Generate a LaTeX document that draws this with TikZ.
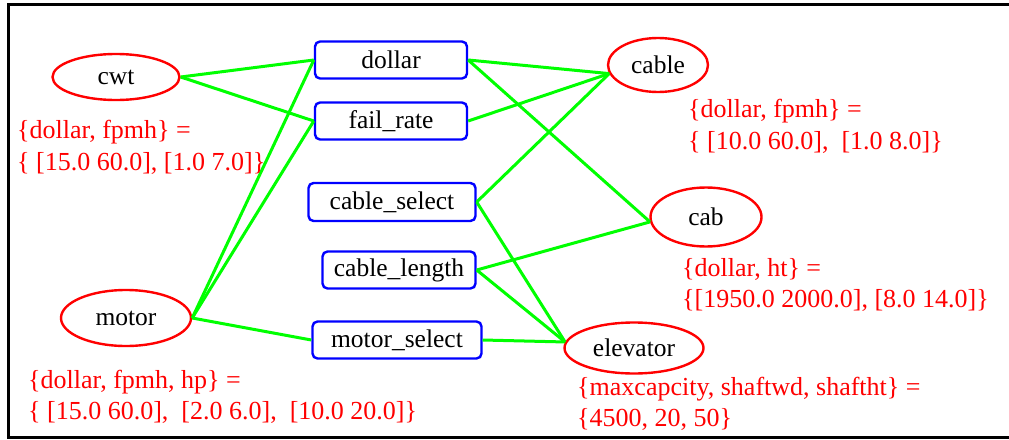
\documentclass[tikz,border=0pt]{standalone}
\usepackage{fontspec}
\setmainfont{Liberation Serif}
\newfontfamily\diagfont{Liberation Serif}
\usetikzlibrary{shapes.geometric}
\definecolor{lgreen}{RGB}{0,255,0}
\definecolor{lred}{RGB}{255,0,0}
\definecolor{lblue}{RGB}{0,0,255}
\begin{document}
\begin{tikzpicture}[x=1pt,y=-1pt,
  ent/.style={ellipse, draw=lred, line width=2.4pt, inner sep=0pt, font=\diagfont\fontsize{25.5}{28}\selectfont},
  var/.style={rectangle, rounded corners=5pt, draw=lblue, line width=2.4pt, inner sep=0pt, font=\diagfont\fontsize{25.5}{28}\selectfont},
  ann/.style={text=lred, anchor=base west, inner sep=0pt, font=\diagfont\fontsize{26}{30}\selectfont},
  link/.style={draw=lgreen, line width=3pt}]
\useasboundingbox (0,0) rectangle (1009,439);
\draw[line width=3pt] (1009,4) -- (8,4) -- (8,437) -- (1009,437);

% entities
\node[ent, minimum width=127pt, minimum height=46pt] (cwt) at (116,77) {cwt};
\node[ent, minimum width=130pt, minimum height=56pt] (motor) at (126,318) {motor};
\node[ent, minimum width=100pt, minimum height=54pt] (cable) at (658,65) {cable};
\node[ent, minimum width=111pt, minimum height=59pt] (cab) at (706,217) {cab};
\node[ent, minimum width=139pt, minimum height=51pt] (elevator) at (634,348) {elevator};

% variables
\node[var, minimum width=152pt, minimum height=37pt] (dollar) at (391,60) {dollar};
\node[var, minimum width=152pt, minimum height=37pt] (failrate) at (391,121) {fail\_rate};
\node[var, minimum width=167pt, minimum height=38pt] (cableselect) at (392,202) {cable\_select};
\node[var, minimum width=153pt, minimum height=37pt] (cablelength) at (399,270) {cable\_length};
\node[var, minimum width=169pt, minimum height=37pt] (motorselect) at (397,340) {motor\_select};

% links
\draw[link] (cwt.east) -- (dollar.west);
\draw[link] (cwt.east) -- (failrate.west);
\draw[link] (motor.east) -- (dollar.west);
\draw[link] (motor.east) -- (failrate.west);
\draw[link] (motor.east) -- (motorselect.west);
\draw[link] (dollar.east) -- (cable.190);
\draw[link] (dollar.east) -- (cab.185);
\draw[link] (failrate.east) -- (cable.190);
\draw[link] (cableselect.east) -- (cable.190);
\draw[link] (cableselect.east) -- (elevator.175);
\draw[link] (cablelength.east) -- (cab.185);
\draw[link] (cablelength.east) -- (elevator.175);
\draw[link] (motorselect.east) -- (elevator.175);

% annotations
\node[ann] (cwta) at (17,138) {\{dollar, fpmh\} =};
\node[ann] (cwtb) at (17,170) {\{ [15.0 60.0], [1.0 7.0]\}};
\node[ann] (cablea) at (688,117) {\{dollar, fpmh\} =};
\node[ann] (cableb) at (688,149) {\{ [10.0 60.0],\ \ [1.0 8.0]\}};
\node[ann] (caba) at (682,276) {\{dollar, ht\} =};
\node[ann] (cabb) at (682,307) {\{[1950.0 2000.0], [8.0 14.0]\}};
\node[ann] (motora) at (28,388) {\{dollar, fpmh, hp\} =};
\node[ann] (motorb) at (28,419) {\{ [15.0 60.0],\ \ [2.0 6.0],\ \ [10.0 20.0]\}};
\node[ann] (eleva) at (577,395) {\{maxcapcity, shaftwd, shaftht\} =};
\node[ann] (elevb) at (577,426) {\{4500, 20, 50\}};
\end{tikzpicture}
\end{document}
